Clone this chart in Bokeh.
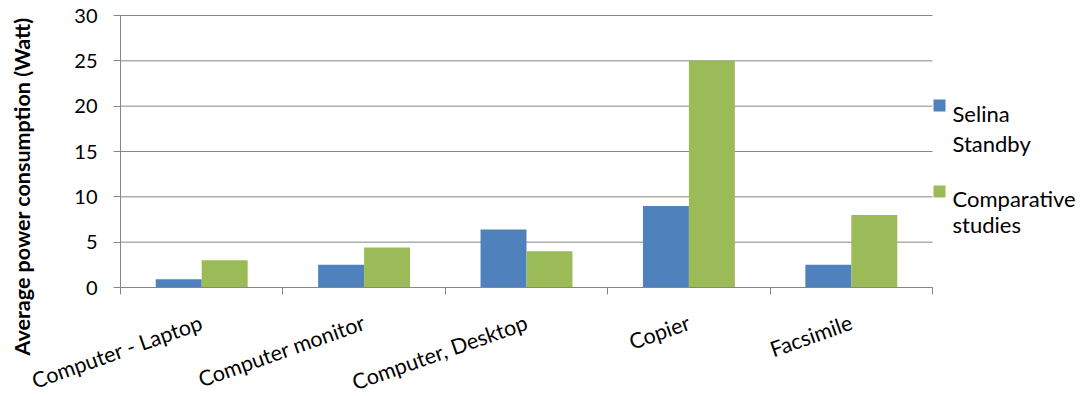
from bokeh.plotting import figure
from bokeh.models import (ColumnDataSource, Range1d, FixedTicker, LabelSet, Label,
                          BoxAnnotation, LinearAxis)
from bokeh.core.properties import value
from bokeh.embed import file_html
from bokeh.resources import INLINE
import math

# Device categories and average power draw (W)
categories = ["Computer - Laptop", "Computer monitor", "Computer, Desktop", "Copier", "Facsimile"]
selina_standby = [0.9, 2.5, 6.4, 9.0, 2.5]
comparative_studies = [3.0, 4.4, 4.0, 25.0, 8.0]
y_ticks = [0, 5, 10, 15, 20, 25, 30]
series_names = [["Selina", "Standby"], ["Comparative", "studies"]]

BLUE = "#4F81BD"
GREEN = "#9BBB59"
GRID = "#868686"
FONT = "Lato"

W, H = 1080, 396
# plot area inside the canvas (pixels)
PX_LEFT, PX_RIGHT, PX_TOP, PX_BOTTOM = 120, 932, 15, 287
n = len(categories)
y_max = y_ticks[-1]
sx = (PX_RIGHT - PX_LEFT) / n          # px per category
sy = (PX_BOTTOM - PX_TOP) / y_max      # px per watt

x_range = Range1d(-PX_LEFT / sx, (W - PX_LEFT) / sx)
y_range = Range1d(-(H - PX_BOTTOM) / sy, y_max + PX_TOP / sy)

bar_w = 0.283
centers = [i + 0.5 for i in range(n)]

src = ColumnDataSource(dict(
    cat=categories,
    center=centers,
    x_blue=[c - bar_w / 2 for c in centers],
    x_green=[c + bar_w / 2 for c in centers],
    selina=selina_standby,
    comp=comparative_studies,
))

p = figure(width=W, height=H, output_backend="svg", toolbar_location=None,
           x_range=x_range, y_range=y_range,
           x_axis_type=None, y_axis_type=None,
           min_border=0, min_border_left=0, min_border_right=0,
           min_border_top=0, min_border_bottom=0)
p.outline_line_color = None
p.background_fill_color = "white"
p.border_fill_color = "white"

# horizontal gridlines across the plot area
p.segment(x0=[0] * len(y_ticks), x1=[n] * len(y_ticks), y0=y_ticks, y1=y_ticks,
          line_color=GRID, line_width=1)

p.vbar(x="x_blue", top="selina", width=bar_w, bottom=0, source=src,
       fill_color=BLUE, line_color=None)
p.vbar(x="x_green", top="comp", width=bar_w, bottom=0, source=src,
       fill_color=GREEN, line_color=None)

# value axis
yax = LinearAxis(fixed_location=0, bounds=(0, y_max), ticker=FixedTicker(ticks=y_ticks))
yax.axis_line_color = GRID
yax.major_tick_line_color = GRID
yax.major_tick_out = 7
yax.major_tick_in = 0
yax.minor_tick_line_color = None
yax.major_label_standoff = 16
yax.major_label_text_font = FONT
yax.major_label_text_font_size = "20px"
yax.major_label_text_color = "black"
p.add_layout(yax, "left")

# category axis: ticks at category boundaries
xax = LinearAxis(fixed_location=0, bounds=(0, n), ticker=FixedTicker(ticks=list(range(n + 1))))
xax.axis_line_color = GRID
xax.major_tick_line_color = GRID
xax.major_tick_out = 7
xax.major_tick_in = 0
xax.minor_tick_line_color = None
xax.major_label_overrides = {i: "" for i in range(n + 1)}
p.add_layout(xax, "below")

cat_labels = LabelSet(x="center", y=0, y_offset=-34, text="cat", source=src,
                      angle=0.34, text_align="right", text_baseline="middle",
                      text_font=value(FONT), text_font_size=value("21.5px"),
                      text_color="black")
p.add_layout(cat_labels)

# y axis title
p.add_layout(Label(x=21, y=H - 186, x_units="screen", y_units="screen",
                   text="Average power consumption (Watt)", angle=math.pi / 2,
                   text_align="center", text_baseline="middle",
                   text_font=FONT, text_font_style="bold", text_font_size="21.5px",
                   text_color="black"))

# legend
legend_rows = [(BLUE, 99, [113, 143]), (GREEN, 185, [198, 224])]
for (color, sq_top, baselines), names in zip(legend_rows, series_names):
    p.add_layout(BoxAnnotation(left=933, right=945, top=H - sq_top, bottom=H - sq_top - 12,
                               left_units="screen", right_units="screen",
                               top_units="screen", bottom_units="screen",
                               fill_color=color, fill_alpha=1, line_color=None))
    for txt, base in zip(names, baselines):
        p.add_layout(Label(x=952, y=H - base, x_units="screen", y_units="screen", text=txt,
                           text_align="left", text_baseline="alphabetic",
                           text_font=FONT, text_font_size="22px", text_color="black"))

open("out.html", "w").write(file_html(p, INLINE))
